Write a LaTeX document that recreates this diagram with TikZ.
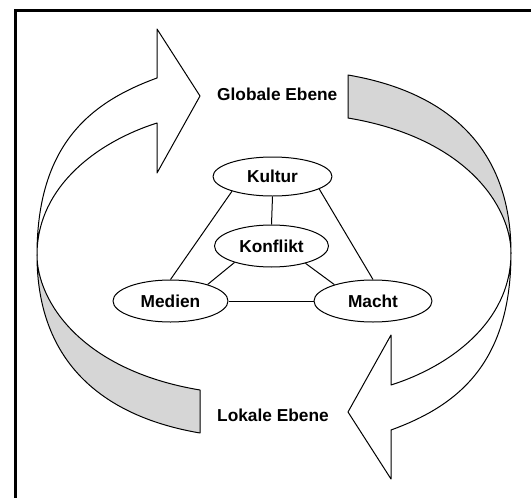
\documentclass[tikz,border=0pt]{standalone}
\usepackage{fontspec}
\setmainfont{Liberation Sans}
\usetikzlibrary{shapes.geometric}
\definecolor{bandgray}{RGB}{214,214,214}
\begin{document}
\begin{tikzpicture}[x=1pt,y=-1pt,line join=round,
  oval/.style={draw, ellipse, line width=1pt, inner sep=0pt, fill=white,
    font=\fontsize{17.3}{20}\selectfont\bfseries},
  link/.style={line width=1pt},
  ribbon/.style={draw, line width=1pt},
  lbl/.style={inner sep=0pt, font=\fontsize{17.3}{20}\selectfont\bfseries}]
\useasboundingbox (0,0) rectangle (531,498);
% frame
\draw[line width=3pt, line join=miter] (15.5,498) -- (15.5,10.5) -- (531,10.5);
% left side: white arrow up, grey band down
\path[ribbon, fill=white] (37,255) .. controls (37,144) and (91,102) .. (157,78)
  -- (157,29) -- (200,96) -- (157,173) -- (157,123)
  .. controls (100,141) and (37,185) .. (37,255) -- cycle;
\path[ribbon, fill=bandgray] (37,255) .. controls (37,365) and (106,417) .. (200,433)
  -- (200,390) .. controls (80,370) and (37,300) .. (37,255) -- cycle;
% right side: point symmetric
\begin{scope}[rotate around={180:(274,254)}]
\path[ribbon, fill=white] (37,255) .. controls (37,144) and (91,102) .. (157,78)
  -- (157,29) -- (200,96) -- (157,173) -- (157,123)
  .. controls (100,141) and (37,185) .. (37,255) -- cycle;
\path[ribbon, fill=bandgray] (37,255) .. controls (37,365) and (106,417) .. (200,433)
  -- (200,390) .. controls (80,370) and (37,300) .. (37,255) -- cycle;
\end{scope}
% labels
\node[lbl, anchor=base west] (global) at (217,100) {Globale Ebene};
\node[lbl, anchor=base west] (lokal) at (217,421.5) {Lokale Ebene};
% nodes
\node[oval, minimum width=119pt, minimum height=39pt] (kultur) at (272.5,176.5) {Kultur};
\node[oval, minimum width=114pt, minimum height=42pt] (konflikt) at (271.5,246) {Konflikt};
\node[oval, minimum width=115pt, minimum height=42pt] (medien) at (170.5,301) {Medien};
\node[oval, minimum width=118pt, minimum height=42pt] (macht) at (373,301) {Macht};
% connectors
\draw[link] (kultur.south) -- (konflikt.north);
\draw[link] (kultur.200) -- (medien.north);
\draw[link] (kultur.-15) -- (macht.north);
\draw[link] (konflikt.204) -- (medien.24);
\draw[link] (konflikt.-27) -- (macht.157);
\draw[link] (medien.east) -- (macht.west);
\end{tikzpicture}
\end{document}
